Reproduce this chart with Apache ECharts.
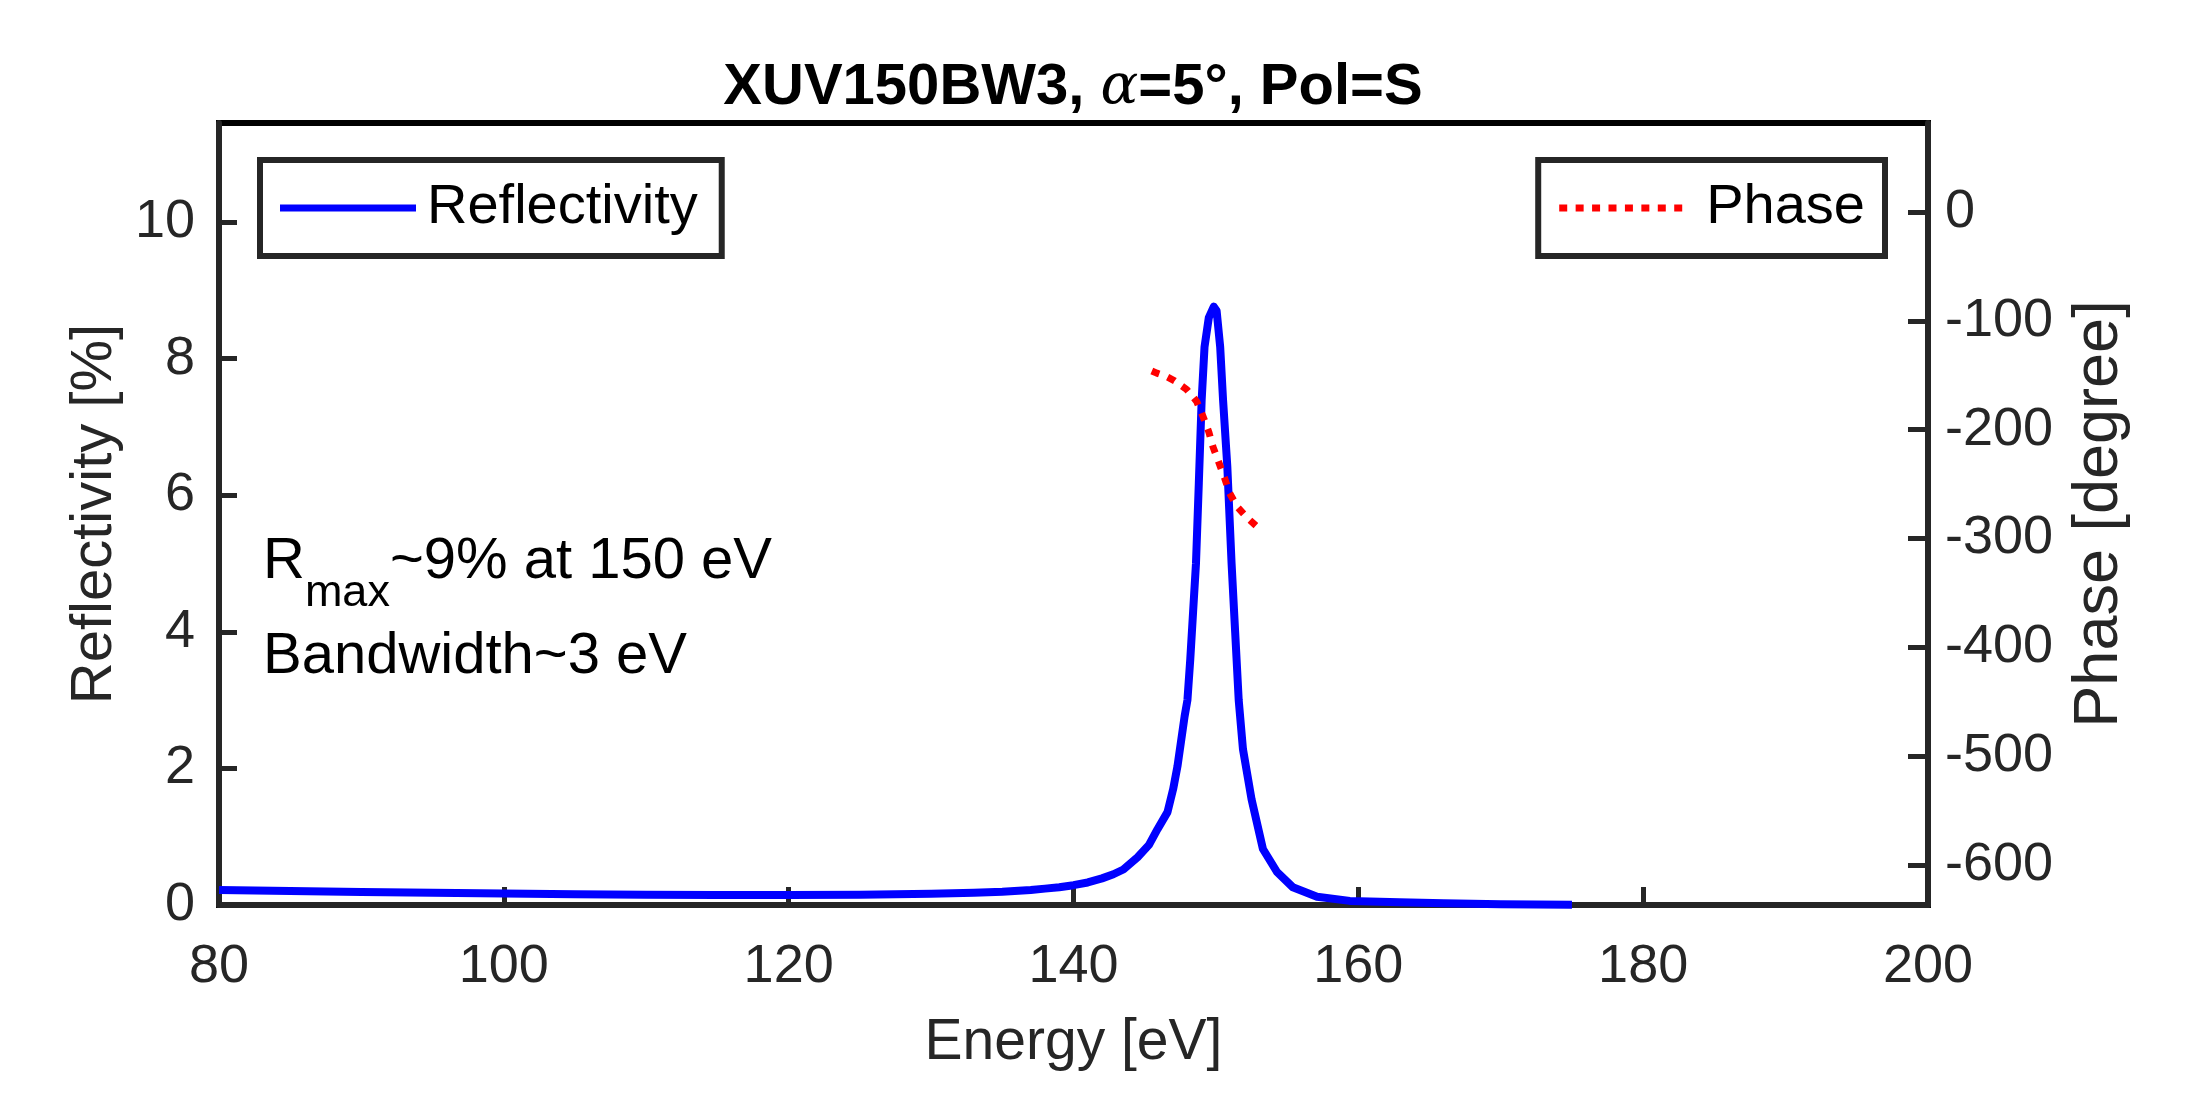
<!DOCTYPE html>
<html><head><meta charset="utf-8">
<script src="https://cdn.jsdelivr.net/npm/echarts@6/dist/echarts.min.js"></script>
<style>html,body{margin:0;padding:0;background:#fff}#c{width:2191px;height:1094px}</style>
</head><body><div id="c"></div>
<script>
// ---- data ----
const energyR = [80, 85, 90, 95, 100, 105, 110, 115, 120, 125, 130, 133, 135, 137, 138, 139, 140, 141, 142, 142.8, 143.5, 144.5, 145.3, 145.9, 146.6, 147.0, 147.3, 147.8, 148.0, 148.2, 148.4, 148.6, 148.8, 149.0, 149.2, 149.5, 149.85, 150.05, 150.3, 150.5, 150.8, 151.1, 151.35, 151.6, 151.9, 152.5, 153.3, 154.3, 155.4, 157.1, 159.4, 162.9, 166, 170, 175];
const reflectivity = [0.22, 0.205, 0.19, 0.178, 0.168, 0.158, 0.15, 0.145, 0.145, 0.15, 0.165, 0.18, 0.195, 0.22, 0.24, 0.26, 0.29, 0.33, 0.39, 0.45, 0.52, 0.70, 0.88, 1.11, 1.36, 1.70, 2.03, 2.76, 3.0, 3.6, 4.3, 5.0, 6.18, 7.4, 8.17, 8.6, 8.76, 8.7, 8.17, 7.4, 6.42, 5.0, 4.0, 3.0, 2.28, 1.55, 0.82, 0.48, 0.26, 0.12, 0.06, 0.04, 0.025, 0.012, 0.005];
const energyPhase = [145.5, 145.85, 146.5, 147.1, 147.95, 148.65, 149.1, 149.5, 149.8, 150.2, 150.6, 150.95, 151.5, 152.2, 153.05, 153.3];
const phase = [-146, -148, -151, -155, -163, -174, -188, -202, -216, -230, -244, -258, -271, -281, -291, -293];
const xTicks = [80, 100, 120, 140, 160, 180, 200];
const leftTicks = [0, 2, 4, 6, 8, 10];
const rightTicks = [-600, -500, -400, -300, -200, -100, 0];
const titleParts = ['XUV150BW3, ', 'α', '=5°, Pol=S'];
const annot1 = ['R', 'max', '~9% at 150 eV'];
const annot2 = 'Bandwidth~3 eV';

const AX = '#262626';
const FONT = '"Liberation Sans", Arial, Helvetica, sans-serif';

function measure(text, size, weight) {
  const c = document.createElement('canvas').getContext('2d');
  c.font = (weight || 'normal') + ' ' + size + 'px ' + FONT;
  return c.measureText(text).width;
}

// dotted legend icon: row of small squares
function dottedIcon(n, w, period, h) {
  let p = 'path://';
  for (let i = 0; i < n; i++) {
    const x = (i * period).toFixed(2);
    p += 'M' + x + ',0h' + w + 'v' + h + 'h-' + w + 'z';
  }
  return p;
}

const chart = echarts.init(document.getElementById('c'), null, {renderer: 'canvas'});

const annX = 263, annY1 = 562, annY2 = 657, annSize = 58, subSize = 45;
const wR = measure(annot1[0], annSize);
const wSub = measure(annot1[1], subSize);

chart.setOption({
  animation: false,
  backgroundColor: '#fff',
  grid: {left: 219, right: 263, top: 123, bottom: 189, show: true, borderColor: '#000', borderWidth: 6, backgroundColor: 'transparent'},
  xAxis: {
    type: 'value', min: 80, max: 200, interval: 20,
    axisLine: {show: true, onZero: false, lineStyle: {color: AX, width: 6}},
    axisTick: {show: true, inside: true, length: 18, lineStyle: {color: AX, width: 5}, customValues: xTicks},
    axisLabel: {show: true, color: AX, fontSize: 54, fontFamily: FONT, margin: 35, customValues: xTicks},
    splitLine: {show: false},
    name: 'Energy [eV]', nameLocation: 'middle', nameGap: 110,
    nameTextStyle: {color: AX, fontSize: 57, fontFamily: FONT}
  },
  yAxis: [{
    type: 'value', min: 0, max: 11.45, interval: 2, position: 'left',
    axisLine: {show: true, onZero: false, lineStyle: {color: AX, width: 6}},
    axisTick: {show: true, inside: true, length: 18, lineStyle: {color: AX, width: 5}, customValues: leftTicks},
    axisLabel: {show: true, color: AX, fontSize: 54, fontFamily: FONT, margin: 24, customValues: leftTicks},
    splitLine: {show: false},
    name: 'Reflectivity [%]', nameLocation: 'middle', nameGap: 95, nameRotate: 90,
    nameTextStyle: {color: AX, fontSize: 58, fontFamily: FONT}
  }, {
    type: 'value', min: -637, max: 82, interval: 100, position: 'right',
    axisLine: {show: true, onZero: false, lineStyle: {color: AX, width: 6}},
    axisTick: {show: true, inside: true, length: 20, lineStyle: {color: AX, width: 5}, customValues: rightTicks},
    axisLabel: {show: true, color: AX, fontSize: 54, fontFamily: FONT, margin: 17, customValues: rightTicks},
    splitLine: {show: false},
    name: 'Phase [degree]', nameLocation: 'middle', nameGap: 140, nameRotate: 90,
    nameTextStyle: {color: AX, fontSize: 63, fontFamily: FONT}
  }],
  legend: [{
    data: [{name: 'Reflectivity', icon: 'rect'}], left: 260, top: 160,
    itemWidth: 136, itemHeight: 7, itemGap: 0,
    padding: [20, 24, 20, 20],
    borderColor: AX, borderWidth: 6, backgroundColor: '#fff',
    textStyle: {color: '#000', fontSize: 56, fontFamily: FONT, padding: [0, 0, 0, 6], lineHeight: 56}
  }, {
    data: [{name: 'Phase', icon: dottedIcon(8, 8, 16.43, 7)}], right: 306, top: 160,
    itemWidth: 123, itemHeight: 7, itemGap: 0,
    padding: [20, 20, 20, 21],
    borderColor: AX, borderWidth: 6, backgroundColor: '#fff',
    textStyle: {color: '#000', fontSize: 56, fontFamily: FONT, padding: [0, 0, 0, 19], lineHeight: 56}
  }],
  series: [{
    name: 'Reflectivity', type: 'line', yAxisIndex: 0, symbol: 'none', showSymbol: false,
    data: energyR.map((e, i) => [e, reflectivity[i]]),
    lineStyle: {color: '#0000ff', width: 8, join: 'round'},
    itemStyle: {color: '#0000ff'}, z: 3
  }, {
    name: 'Phase', type: 'line', yAxisIndex: 1, symbol: 'none', showSymbol: false,
    data: energyPhase.map((e, i) => [e, phase[i]]),
    lineStyle: {color: '#ff0000', width: 7, type: [8, 9], cap: 'butt'},
    itemStyle: {color: '#ff0000'}, z: 4
  }],
  graphic: [{
    type: 'text', x: 1073, y: 88, z: 10,
    style: {
      text: '{b|' + titleParts[0] + '}{a|' + titleParts[1] + '}{b|' + titleParts[2] + '}',
      align: 'center', verticalAlign: 'middle',
      rich: {
        b: {fontSize: 58, fontWeight: 'bold', fontFamily: FONT, fill: '#000'},
        a: {fontSize: 56, fontStyle: 'italic', fontFamily: '"DejaVu Serif", "Liberation Serif", serif', fill: '#000'}
      }
    }
  }, {
    type: 'text', x: annX, y: annY1, z: 10,
    style: {text: annot1[0], fontSize: annSize, fontFamily: FONT, fill: '#000', verticalAlign: 'middle'}
  }, {
    type: 'text', x: annX + wR, y: annY1 + 32, z: 10,
    style: {text: annot1[1], fontSize: subSize, fontFamily: FONT, fill: '#000', verticalAlign: 'middle'}
  }, {
    type: 'text', x: annX + wR + wSub, y: annY1, z: 10,
    style: {text: annot1[2], fontSize: annSize, fontFamily: FONT, fill: '#000', verticalAlign: 'middle'}
  }, {
    type: 'text', x: annX, y: annY2, z: 10,
    style: {text: annot2, fontSize: annSize, fontFamily: FONT, fill: '#000', verticalAlign: 'middle'}
  }]
});
</script>
</body></html>
